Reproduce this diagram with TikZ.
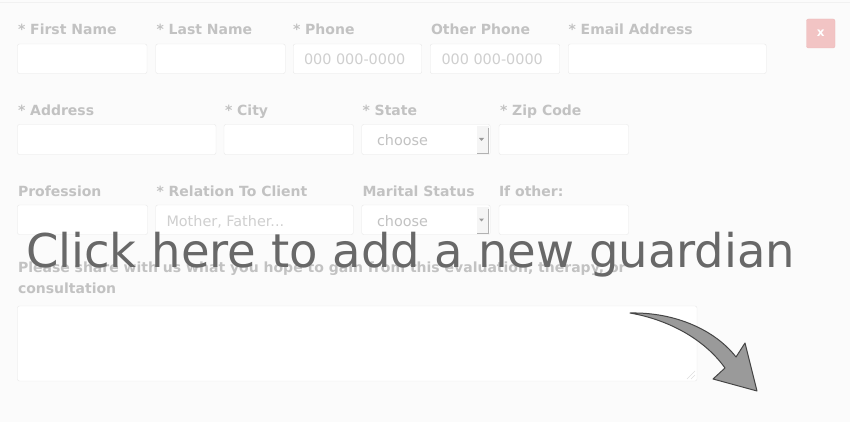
\documentclass[tikz,border=0pt]{standalone}
\usepackage{fontspec}
\setmainfont{DejaVu Sans}
\usepackage{tikz}

\definecolor{bg}{HTML}{FBFBFB}
\definecolor{fieldline}{HTML}{E8E8E8}
\definecolor{lblgray}{HTML}{C2C2C2}
\definecolor{hintgray}{HTML}{CFCFCF}
\definecolor{bigtext}{HTML}{686868}
\definecolor{closefill}{HTML}{F2C4C4}
\definecolor{closeline}{HTML}{ECB8B8}
\definecolor{arrowfill}{HTML}{9A9A9A}
\definecolor{arrowline}{HTML}{454545}

\begin{document}
\begin{tikzpicture}
   [x={(1pt,0pt)},y={(0pt,-1pt)},
   every node/.style={inner sep=0pt,outer sep=0pt},
   field/.style={draw=fieldline,fill=white,rounded corners=2pt,anchor=north west,minimum height=29.5pt},
   lbl/.style={anchor=base west,text=lblgray,font=\fontsize{14}{16}\selectfont\bfseries},
   hint/.style={anchor=base west,text=hintgray,font=\fontsize{14.4}{16}\selectfont}]

   \fill[bg] (0,0) rectangle (850,422);
   \useasboundingbox (0,0) rectangle (850,422);
   \draw[fieldline!60] (0,2) -- (850,2);

   \node[lbl] (fnamel) at (18,35) {* First Name};
   \node[lbl] (lnamel) at (156.5,35) {* Last Name};
   \node[lbl] (phonel) at (293,35) {* Phone};
   \node[lbl] (ophonel) at (431,35) {Other Phone};
   \node[lbl] (emaill) at (568.5,35) {* Email Address};

   \node[field,minimum width=129.5pt] (fname) at (17.5,44) {};
   \node[field,minimum width=129.5pt] (lname) at (155.75,44) {};
   \node[field,minimum width=128.5pt] (phone) at (293.25,44) {};
   \node[field,minimum width=129.5pt] (ophone) at (430.25,44) {};
   \node[field,minimum width=198pt] (email) at (568.25,44) {};
   \node[hint] (phoneh) at (304,65) {000 000-0000};
   \node[hint] (ophoneh) at (441.5,65) {000 000-0000};

   \node[draw=closeline,fill=closefill,rounded corners=2pt,minimum width=28.5pt,minimum height=29pt,
      anchor=north west,text=white,font=\fontsize{12}{12}\selectfont\bfseries] (close) at (806.5,19) {x};

   \node[lbl] (addrl) at (18,115.5) {* Address};
   \node[lbl] (cityl) at (225,115.5) {* City};
   \node[lbl] (statel) at (362.5,115.5) {* State};
   \node[lbl] (zipl) at (500,115.5) {* Zip Code};

   \node[field,minimum width=198.5pt,minimum height=30pt] (addr) at (17.5,124.5) {};
   \node[field,minimum width=129.5pt,minimum height=30pt] (city) at (224,124.5) {};
   \node[field,minimum width=128.5pt,minimum height=30pt] (state) at (361.75,124.5) {};
   \node[field,minimum width=129.5pt,minimum height=30pt] (zip) at (499,124.5) {};
   \fill[black!4] (477,126) rectangle (488.5,153);
   \draw[black!30] (488.5,128) -- (488.5,153) -- (477,153);
   \fill[black!40] (479,138) -- (484,138) -- (481.5,141) -- cycle;
   \node[hint,text=lblgray] (stateh) at (377,145.5) {choose};

   \node[lbl] (profl) at (18,196) {Profession};
   \node[lbl] (rell) at (156.5,196) {* Relation To Client};
   \node[lbl] (maritl) at (362.5,196) {Marital Status};
   \node[lbl] (otherl) at (499,196) {If other:};

   \node[field,minimum width=130pt] (prof) at (17.5,205) {};
   \node[field,minimum width=197.5pt] (rel) at (155.75,205) {};
   \node[field,minimum width=128.5pt] (marit) at (361.75,205) {};
   \node[field,minimum width=129.5pt] (other) at (499,205) {};
   \fill[black!4] (477,206.5) rectangle (488.5,233.5);
   \draw[black!30] (488.5,208.5) -- (488.5,233.5) -- (477,233.5);
   \fill[black!40] (479,218.5) -- (484,218.5) -- (481.5,221.5) -- cycle;
   \node[hint,text=lblgray] (marith) at (377,226) {choose};
   \node[hint] (relh) at (166.5,226) {Mother, Father...};

   \node[lbl] (sharel) at (18,272) {Please share with us what you hope to gain from this evaluation, therapy, or};
   \node[lbl] (sharel2) at (18,293) {consultation};
   \node[field,minimum width=679.5pt,minimum height=75pt] (share) at (17.5,306) {};
   \draw[fieldline!150] (687,379) -- (695,371);
   \draw[fieldline!150] (691,379) -- (695,375);

   \node[anchor=base west,text=bigtext,font=\fontsize{46.5}{50}\selectfont] (cta) at (26,267)
      {Click here to add a new guardian};

   \draw[arrowline,fill=arrowfill,line width=1pt,line join=round]
      (630,313) .. controls (675,312) and (715,330) .. (736,357) -- (745,343) -- (757,391)
      -- (713,379) -- (725,368) .. controls (705,340) and (670,320) .. (630,313) -- cycle;
 \end{tikzpicture}
\end{document}
